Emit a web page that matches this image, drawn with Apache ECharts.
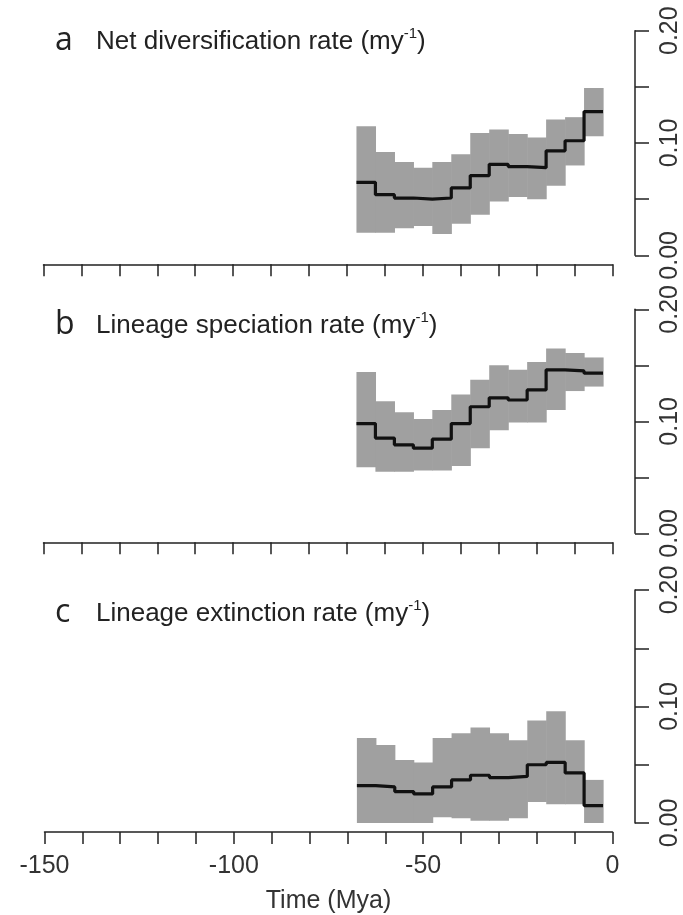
<!doctype html>
<html lang="en">
<head>
    <meta charset="UTF-8">
    <script src="https://cdn.jsdelivr.net/npm/echarts@6/dist/echarts.min.js"></script>
    <title>Diversification rates through time</title>
    <style>
        html, body { margin: 0; padding: 0; background: #fff; }
    </style>
</head>
<body>
<div id="main" style="width: 683px;height:915px;"></div>
</body>
<script>
    // bin centres (Mya), bins are 5 my wide
    var times = [-65, -60, -55, -50, -45, -40, -35, -30, -25, -20, -15, -10, -5];
    var binWidth = 5;

    // a: net diversification rate
    var netMid = [0.065, 0.054, 0.051, 0.050, 0.051, 0.060, 0.071, 0.081, 0.079, 0.078, 0.093, 0.102, 0.128];
    var netLo  = [0.020, 0.020, 0.024, 0.026, 0.019, 0.028, 0.036, 0.048, 0.052, 0.050, 0.062, 0.080, 0.106];
    var netHi  = [0.115, 0.092, 0.083, 0.078, 0.083, 0.090, 0.109, 0.112, 0.108, 0.105, 0.121, 0.123, 0.149];

    // b: lineage speciation rate
    var spMid = [0.098, 0.085, 0.079, 0.076, 0.084, 0.098, 0.113, 0.121, 0.119, 0.128, 0.146, 0.145, 0.143];
    var spLo  = [0.059, 0.055, 0.055, 0.056, 0.056, 0.060, 0.076, 0.092, 0.099, 0.099, 0.110, 0.127, 0.131];
    var spHi  = [0.144, 0.118, 0.108, 0.102, 0.110, 0.124, 0.137, 0.150, 0.146, 0.153, 0.165, 0.161, 0.157];

    // c: lineage extinction rate
    var exMid = [0.032, 0.031, 0.027, 0.025, 0.031, 0.037, 0.041, 0.039, 0.040, 0.050, 0.052, 0.043, 0.015];
    var exLo  = [0.000, 0.000, 0.000, 0.000, 0.005, 0.004, 0.002, 0.002, 0.004, 0.018, 0.016, 0.016, 0.000];
    var exHi  = [0.073, 0.067, 0.054, 0.052, 0.073, 0.077, 0.082, 0.077, 0.071, 0.088, 0.096, 0.071, 0.037];

    var xTicks = [-150, -100, -50, 0];
    var yTicks = [0, 0.1, 0.2];

    var titles = [
        {letter: 'a', text: 'Net diversification rate (my'},
        {letter: 'b', text: 'Lineage speciation rate (my'},
        {letter: 'c', text: 'Lineage extinction rate (my'}
    ];

    var panels = [
        {mid: netMid, lo: netLo, hi: netHi, top: 30.7, height: 224.6, left: 43.5, right: 67.5, titleY: 44},
        {mid: spMid, lo: spLo, hi: spHi, top: 309.3, height: 224, left: 43.5, right: 67.5, titleY: 328},
        {mid: exMid, lo: exLo, hi: exHi, top: 590, height: 239.3, left: 44.5, right: 66.5, titleY: 616}
    ];

    var myChart = echarts.init(document.getElementById('main'), null, {renderer: 'canvas'});

    var axisColor = '#222';
    var textColor = '#333';

    function bandItem(params, api) {
        var t = api.value(0);
        var p0 = api.coord([t - binWidth / 2, api.value(2)]);
        var p1 = api.coord([t + binWidth / 2, api.value(1)]);
        return {
            type: 'rect',
            shape: {x: p0[0], y: p0[1], width: p1[0] - p0[0] + 0.6, height: p1[1] - p0[1]},
            style: {fill: '#a0a0a0'}
        };
    }

    var grids = [], xAxes = [], yAxes = [], series = [], graphics = [];
    panels.forEach(function (p, i) {
        var last = i === panels.length - 1;
        grids.push({left: p.left, right: p.right, top: p.top, height: p.height});
        xAxes.push({
            type: 'value', gridIndex: i, min: -150, max: 0, interval: 10,
            position: 'bottom', offset: 9,
            axisLine: {show: true, onZero: false, lineStyle: {color: axisColor, width: 1.5}},
            axisTick: {show: true, length: 12, lineStyle: {color: axisColor, width: 1.5}},
            splitLine: {show: false},
            axisLabel: {
                show: last, margin: 22, color: textColor, fontSize: 25,
                fontFamily: 'Liberation Sans',
                formatter: function (v) { return xTicks.indexOf(v) >= 0 ? String(v) : ''; }
            },
            name: last ? 'Time (Mya)' : '',
            nameLocation: 'middle', nameGap: 57,
            nameTextStyle: {color: textColor, fontSize: 25, fontFamily: 'Liberation Sans'}
        });
        yAxes.push({
            type: 'value', gridIndex: i, min: 0, max: 0.2, interval: 0.05,
            position: 'right', offset: 22.5,
            axisLine: {show: true, onZero: false, lineStyle: {color: axisColor, width: 1.5}},
            axisTick: {show: true, length: 14, lineStyle: {color: axisColor, width: 1.5}},
            splitLine: {show: false},
            axisLabel: {
                rotate: 90, margin: 23, color: textColor, fontSize: 25,
                fontFamily: 'Liberation Sans',
                formatter: function (v) {
                    for (var k = 0; k < yTicks.length; k++) {
                        if (Math.abs(v - yTicks[k]) < 1e-6) return v.toFixed(2);
                    }
                    return '';
                }
            }
        });

        var bandData = times.map(function (t, k) { return [t, p.lo[k], p.hi[k]]; });
        series.push({
            type: 'custom', xAxisIndex: i, yAxisIndex: i,
            renderItem: bandItem, data: bandData, silent: true
        });

        var stepData = times.map(function (t, k) { return [t - binWidth / 2, p.mid[k]]; });
        stepData.push([times[times.length - 1] + binWidth / 2, p.mid[p.mid.length - 1]]);
        series.push({
            type: 'line', xAxisIndex: i, yAxisIndex: i, step: 'end',
            data: stepData, symbol: 'none', z: 5,
            lineStyle: {color: '#111', width: 3.2}
        });

        graphics.push({
            type: 'text', left: 55, top: p.titleY - 19,
            style: {text: titles[i].letter, fontSize: 32, fontFamily: 'Open Sans', fill: '#222'}
        });
        graphics.push({
            type: 'text', left: 96, top: p.titleY - 18,
            style: {
                text: '{t|' + titles[i].text + '}{s|-1}{t|)}',
                rich: {
                    t: {fontSize: 26, lineHeight: 31, fontFamily: 'Liberation Sans', fill: '#222', color: '#222'},
                    s: {fontSize: 15, lineHeight: 15, verticalAlign: 'top', fontFamily: 'Liberation Sans', fill: '#222', color: '#222'}
                }
            }
        });
    });

    var option = {
        animation: false,
        backgroundColor: '#fff',
        grid: grids,
        xAxis: xAxes,
        yAxis: yAxes,
        series: series,
        graphic: graphics
    };
    myChart.setOption(option);
</script>
</html>
